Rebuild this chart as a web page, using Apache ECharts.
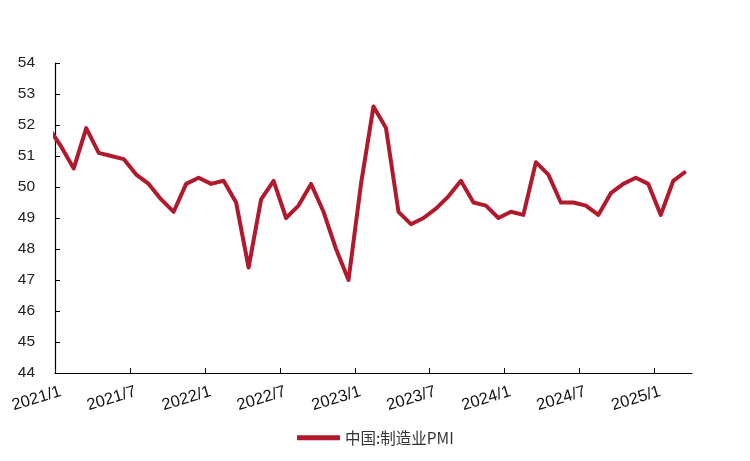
<!DOCTYPE html>
<html>
<head>
<meta charset="utf-8">
<script src="https://cdn.jsdelivr.net/npm/echarts@6/dist/echarts.min.js"></script>
<style>
html,body{margin:0;padding:0;background:#fff;}
#c{width:750px;height:461px;}
</style>
</head>
<body>
<div id="c"></div>
<script>
const months = ['2020/12',
  '2021/1','2021/2','2021/3','2021/4','2021/5','2021/6','2021/7','2021/8','2021/9','2021/10','2021/11','2021/12',
  '2022/1','2022/2','2022/3','2022/4','2022/5','2022/6','2022/7','2022/8','2022/9','2022/10','2022/11','2022/12',
  '2023/1','2023/2','2023/3','2023/4','2023/5','2023/6','2023/7','2023/8','2023/9','2023/10','2023/11','2023/12',
  '2024/1','2024/2','2024/3','2024/4','2024/5','2024/6','2024/7','2024/8','2024/9','2024/10','2024/11','2024/12',
  '2025/1','2025/2','2025/3'];
const pmi = [51.9,
  51.3,50.6,51.9,51.1,51.0,50.9,50.4,50.1,49.6,49.2,50.1,50.3,
  50.1,50.2,49.5,47.4,49.6,50.2,49.0,49.4,50.1,49.2,48.0,47.0,
  50.1,52.6,51.9,49.2,48.8,49.0,49.3,49.7,50.2,49.5,49.4,49.0,
  49.2,49.1,50.8,50.4,49.5,49.5,49.4,49.1,49.8,50.1,50.3,50.1,
  49.1,50.2,50.5];
const seriesName = '中国:制造业PMI';
const tickMonths = ['2021/1','2021/7','2022/1','2022/7','2023/1','2023/7','2024/1','2024/7','2025/1'];
const yTicks = [44,45,46,47,48,49,50,51,52,53,54];

const baseYear = 2021;
function monthIndex(s){const p=s.split('/');return (parseInt(p[0])-baseYear)*12+parseInt(p[1])-1;}
function indexLabel(v){const y=baseYear+Math.floor(v/12);const m=((v%12)+12)%12+1;return y+'/'+m;}

const data = months.map((m,i)=>[monthIndex(m)+0.5, pmi[i]]);
const tickVals = tickMonths.map(monthIndex);

const chart = echarts.init(document.getElementById('c'));
chart.setOption({
  backgroundColor:'#fff',
  animation:false,
  grid:{left:55,right:58,top:63,bottom:88,containLabel:false},
  xAxis:{
    type:'value',min:0,max:51,
    axisLine:{show:true,lineStyle:{color:'#000',width:1.2}},
    axisTick:{show:true,inside:true,length:5,customValues:tickVals,lineStyle:{color:'#000'}},
    axisLabel:{customValues:tickVals,formatter:v=>indexLabel(v),rotate:17,margin:20,padding:[0,-6,0,0],
      fontSize:16.5,color:'#111',fontFamily:'Liberation Sans, Arial, sans-serif'},
    splitLine:{show:false}
  },
  yAxis:{
    type:'value',min:yTicks[0],max:yTicks[yTicks.length-1],interval:1,
    axisLine:{show:true,lineStyle:{color:'#000',width:1.2}},
    axisTick:{show:true,inside:true,length:5,lineStyle:{color:'#000'}},
    axisLabel:{fontSize:15.5,color:'#222',margin:20,fontFamily:'Liberation Sans, Arial, sans-serif'},
    splitLine:{show:false}
  },
  legend:{
    top:425,left:292,
    icon:'rect',itemWidth:43,itemHeight:5,itemGap:10,
    textStyle:{fontSize:15.5,color:'#333',fontFamily:'Noto Sans CJK SC, sans-serif'},
    data:[seriesName]
  },
  series:[{
    name:seriesName,type:'line',data:data,clip:true,
    symbol:'none',
    lineStyle:{color:'#B01A2C',width:4,join:'round'},
    itemStyle:{color:'#B01A2C'}
  }]
});
</script>
</body>
</html>
